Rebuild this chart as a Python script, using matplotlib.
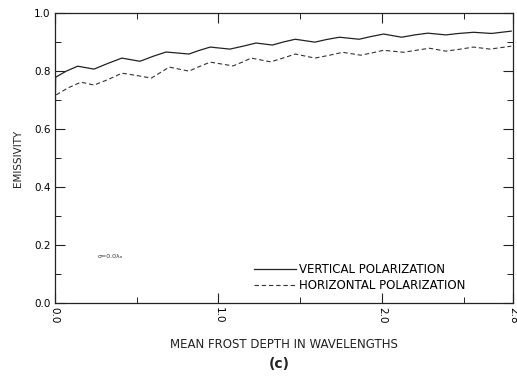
import matplotlib
matplotlib.use("Agg")
import matplotlib.pyplot as plt
from matplotlib.ticker import MultipleLocator, FixedLocator

plt.rcParams['font.family'] = ['DejaVu Sans']

# values (peaks / troughs of the ripple)
depth_v = [0.0, 0.005, 0.07, 0.14, 0.24, 0.33, 0.41, 0.52, 0.60, 0.68, 0.82, 0.88,
           0.95, 1.07, 1.15, 1.23, 1.33, 1.40, 1.47, 1.59, 1.66, 1.74, 1.86, 1.93,
           2.01, 2.12, 2.20, 2.28, 2.39, 2.47, 2.56, 2.67, 2.79]
vertical = [0.55, 0.779, 0.800, 0.817, 0.807, 0.828, 0.845, 0.834, 0.851, 0.866, 0.859, 0.871,
            0.883, 0.876, 0.886, 0.897, 0.890, 0.901, 0.910, 0.900, 0.909, 0.917, 0.910, 0.919,
            0.928, 0.917, 0.925, 0.931, 0.925, 0.930, 0.934, 0.930, 0.938]

depth_h = [0.0, 0.005, 0.08, 0.16, 0.24, 0.33, 0.41, 0.50, 0.59, 0.70, 0.82, 0.88,
           0.95, 1.09, 1.15, 1.20, 1.32, 1.40, 1.47, 1.59, 1.68, 1.76, 1.87, 1.94,
           2.01, 2.13, 2.21, 2.29, 2.39, 2.48, 2.56, 2.66, 2.79]
horizontal = [0.52, 0.717, 0.742, 0.762, 0.752, 0.772, 0.793, 0.785, 0.776, 0.814, 0.800, 0.815,
              0.831, 0.818, 0.832, 0.845, 0.832, 0.846, 0.859, 0.845, 0.855, 0.865, 0.855, 0.863,
              0.872, 0.865, 0.872, 0.879, 0.869, 0.876, 0.883, 0.876, 0.886]

x_major = [0.0, 1.0, 2.0, 2.8]
x_labels = ["0.0", "1.0", "2.0", "2.8"]
y_labels = ["0.0", "0.2", "0.4", "0.6", "0.8", "1.0"]

fig = plt.figure(figsize=(5.17, 3.76), dpi=100)
ax = fig.add_axes([0.106, 0.194, 0.886, 0.771])

ax.plot(depth_v, vertical, color='#222222', lw=0.9, label='VERTICAL POLARIZATION')
ax.plot(depth_h, horizontal, color='#333333', lw=0.8, ls=(0, (4, 2.5)),
        label='HORIZONTAL POLARIZATION')

ax.set_xlim(0, 2.8)
ax.set_ylim(0, 1.0)

ax.xaxis.set_major_locator(FixedLocator(x_major))
ax.set_xticklabels(x_labels, rotation=270, fontsize=7.5)
ax.xaxis.set_minor_locator(FixedLocator([0.5, 1.5, 2.5]))
ax.set_yticks([0, 0.2, 0.4, 0.6, 0.8, 1.0])
ax.set_yticklabels(y_labels, fontsize=7.5)
ax.yaxis.set_minor_locator(MultipleLocator(0.1))

ax.tick_params(which='both', direction='in', top=True, right=True, color='#222222')
ax.tick_params(which='major', length=7, width=0.8, pad=3)
ax.tick_params(which='minor', length=4, width=0.7)
for s in ax.spines.values():
    s.set_linewidth(0.9)
    s.set_color('#222222')

ax.set_xlabel('MEAN FROST DEPTH IN WAVELENGTHS', fontsize=8.5, labelpad=10, color='#222222')
ax.set_ylabel('EMISSIVITY', fontsize=7.5, labelpad=8, color='#222222')

ax.text(0.26, 0.155, '\u03c3=0.0\u03bb\u2092', fontsize=4.5, color='#333333')

ax.legend(loc='lower right', bbox_to_anchor=(0.92, 0.0), frameon=False, fontsize=8.5,
          handlelength=3.5, handletextpad=0.3, labelspacing=0.3)

fig.text(0.54, 0.022, '(c)', fontsize=10, fontweight='bold', ha='center', color='#222222')

fig.savefig('out.png', dpi=100)
